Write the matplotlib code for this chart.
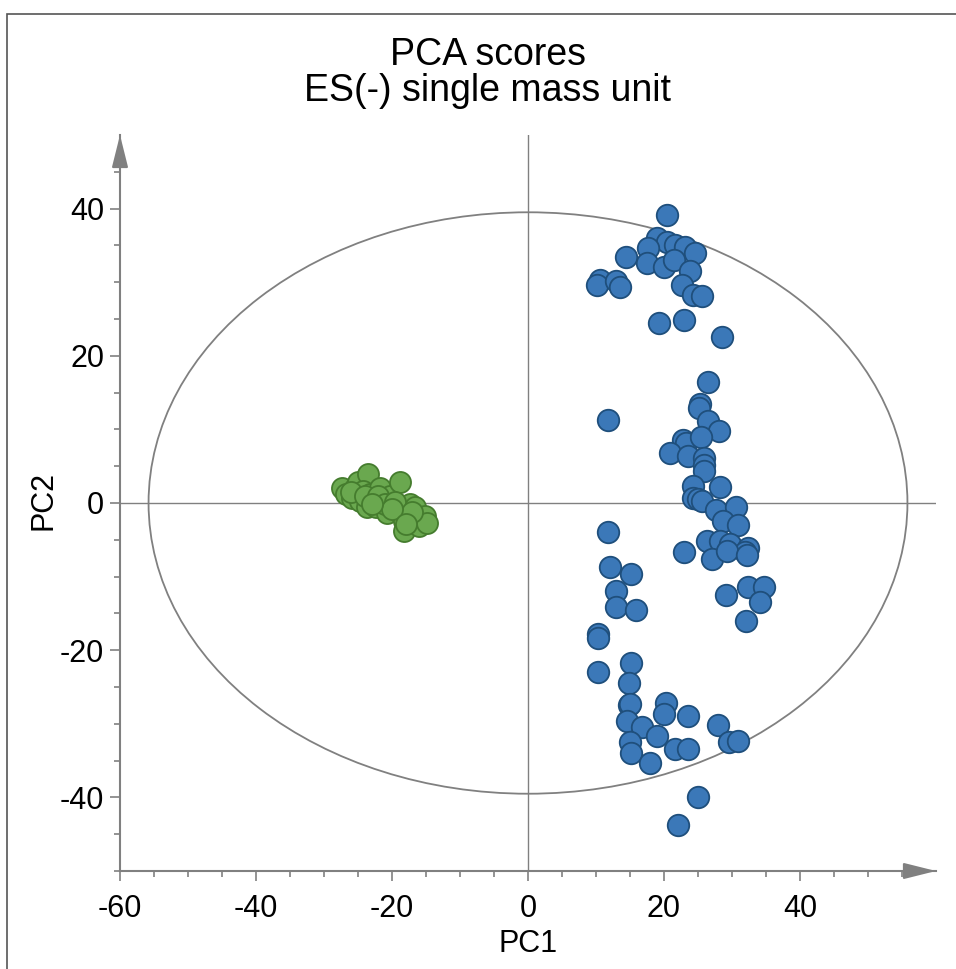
import matplotlib
matplotlib.use("Agg")
import matplotlib.pyplot as plt
import numpy as np
from matplotlib.patches import Ellipse, Rectangle

plt.rcParams['font.family'] = ['Liberation Sans', 'DejaVu Sans']
plt.rcParams['axes.unicode_minus'] = False

# PCA score coordinates (PC1, PC2)
group_a_pc1 = [-27.3, -26.7, -25.4, -25.0, -23.5, -24.2, -25.9, -24.7, -23.2, -21.8,
               -22.5, -21.3, -23.7, -22.3, -20.3, -18.8, -19.6, -20.8, -18.8, -17.4,
               -16.6, -17.6, -18.3, -16.4, -15.1, -18.3, -16.1, -14.9, -26.0, -24.0,
               -22.0, -21.0, -19.5, -17.0, -20.0, -23.0, -18.0]
group_a_pc2 = [2.0, 1.2, 2.1, 2.8, 3.9, 1.6, 0.7, 0.3, 1.2, 2.1,
               0.3, 0.5, -0.6, -0.6, 0.9, 2.8, -0.2, -1.3, -1.3, -0.2,
               -0.6, -2.0, -2.4, -2.4, -1.8, -3.8, -3.1, -2.7, 1.5, 0.9,
               1.0, -0.1, 0.2, -1.2, -0.8, -0.2, -2.9]

group_b_pc1 = [20.5, 18.9, 20.4, 21.6, 23.1, 24.6, 17.7, 14.4, 17.5, 20.0,
               21.5, 23.8, 10.6, 10.2, 12.9, 13.5, 22.6, 24.3, 25.6, 19.3,
               22.9, 28.6,
               26.4, 11.8, 25.3, 25.2, 26.5, 28.1, 22.8, 23.2, 25.5, 20.9,
               23.6, 25.9, 25.9, 25.9, 24.3, 28.2, 24.3, 25.0, 25.6, 27.7,
               30.6, 28.7, 30.9, 11.8, 26.3, 28.2, 29.7, 32.4, 22.9, 31.9,
               27.1, 29.2, 32.2, 12.0, 15.2, 12.9, 12.9, 15.9, 29.1, 32.4,
               34.7, 34.1, 32.1,
               10.3, 10.3, 10.3, 15.2, 14.8, 14.8, 15.0, 20.3, 20.0, 23.6,
               14.5, 16.7, 18.9, 28.0, 15.0, 15.2, 17.9, 21.6, 23.6, 29.5,
               30.9, 25.0, 22.1]
group_b_pc2 = [39.1, 36.0, 35.5, 35.1, 34.8, 33.9, 34.6, 33.4, 32.6, 32.0,
               33.0, 31.5, 30.3, 29.6, 30.1, 29.3, 29.6, 28.3, 28.1, 24.4,
               24.8, 22.5,
               16.5, 11.3, 13.4, 12.9, 11.1, 9.8, 8.6, 8.2, 8.9, 6.8,
               6.4, 6.1, 5.2, 4.3, 2.3, 2.2, 0.7, 0.5, 0.3, -0.9,
               -0.5, -2.4, -3.0, -4.0, -5.2, -5.2, -5.6, -6.1, -6.7, -6.7,
               -7.6, -6.5, -7.0, -8.7, -9.6, -11.9, -14.1, -14.6, -12.5, -11.4,
               -11.4, -13.5, -16.0,
               -17.8, -18.3, -23.0, -21.7, -24.4, -27.5, -27.3, -27.2, -28.7, -29.0,
               -29.6, -30.4, -31.6, -30.1, -32.5, -33.9, -35.3, -33.4, -33.4, -32.5,
               -32.3, -39.9, -43.7]

# Hotelling T2 ellipse semi-axes
t2_pc1 = 55.8
t2_pc2 = 39.5

axis_gray = '#808080'

fig = plt.figure(figsize=(9.56, 9.69), dpi=100)
ax = fig.add_axes([120 / 956, 98 / 969, 816 / 956, 736 / 969])
ax.set_xlim(-60, 60)
ax.set_ylim(-50, 50)

for side in ['top', 'right']:
    ax.spines[side].set_visible(False)
for side in ['left', 'bottom']:
    ax.spines[side].set_color(axis_gray)
    ax.spines[side].set_linewidth(1.5)

# arrow heads on both axes
head = dict(arrowstyle='-|>,head_length=1.0,head_width=0.25', mutation_scale=20,
            color=axis_gray, lw=1.5, shrinkA=0, shrinkB=0)
ax.annotate('', xy=(1, 0), xytext=(0.97, 0), xycoords='axes fraction', arrowprops=head)
ax.annotate('', xy=(0, 1), xytext=(0, 0.97), xycoords='axes fraction', arrowprops=head)

ax.set_xticks([-60, -40, -20, 0, 20, 40])
ax.set_xticks(np.arange(-55, 56, 5), minor=True)
ax.set_yticks([-40, -20, 0, 20, 40])
ax.set_yticks(np.arange(-50, 46, 5), minor=True)
ax.tick_params(which='both', color=axis_gray, width=1.2, labelsize=22)
ax.tick_params(which='major', length=7.5)
ax.tick_params(which='minor', length=4)
ax.tick_params(axis='x', which='major', pad=9)
ax.tick_params(axis='y', which='major', pad=4)

# zero lines and confidence ellipse
ax.axhline(0, color=axis_gray, lw=1.0, zorder=1)
ax.axvline(0, color=axis_gray, lw=1.0, zorder=1)
ax.add_patch(Ellipse((0, 0), 2 * t2_pc1, 2 * t2_pc2, fill=False,
                     edgecolor=axis_gray, lw=1.3, zorder=1))

ax.scatter(group_a_pc1, group_a_pc2, s=230, c='#6aa84f', edgecolors='#457c2e',
           linewidths=1.3, zorder=3)
ax.scatter(group_b_pc1, group_b_pc2, s=240, c='#3b78b8', edgecolors='#1f4f7c',
           linewidths=1.3, zorder=3)

fig.text(488 / 956, 1 - 65 / 969, 'PCA scores', fontsize=27, ha='center', va='baseline')
fig.text(488 / 956, 1 - 101 / 969, 'ES(-) single mass unit', fontsize=27,
         ha='center', va='baseline')
fig.text(528 / 956, 1 - 952 / 969, 'PC1', fontsize=22, ha='center', va='baseline')
fig.text(44 / 956, 1 - 501 / 969, 'PC2', fontsize=22, ha='center', va='center',
         rotation=90)

# outer frame
fig.add_artist(Rectangle((7 / 956, -0.05), 1.2, 1.05 - 14 / 969, fill=False,
                         edgecolor='#555555', lw=1.2, transform=fig.transFigure))

fig.savefig('out.png', dpi=100)
